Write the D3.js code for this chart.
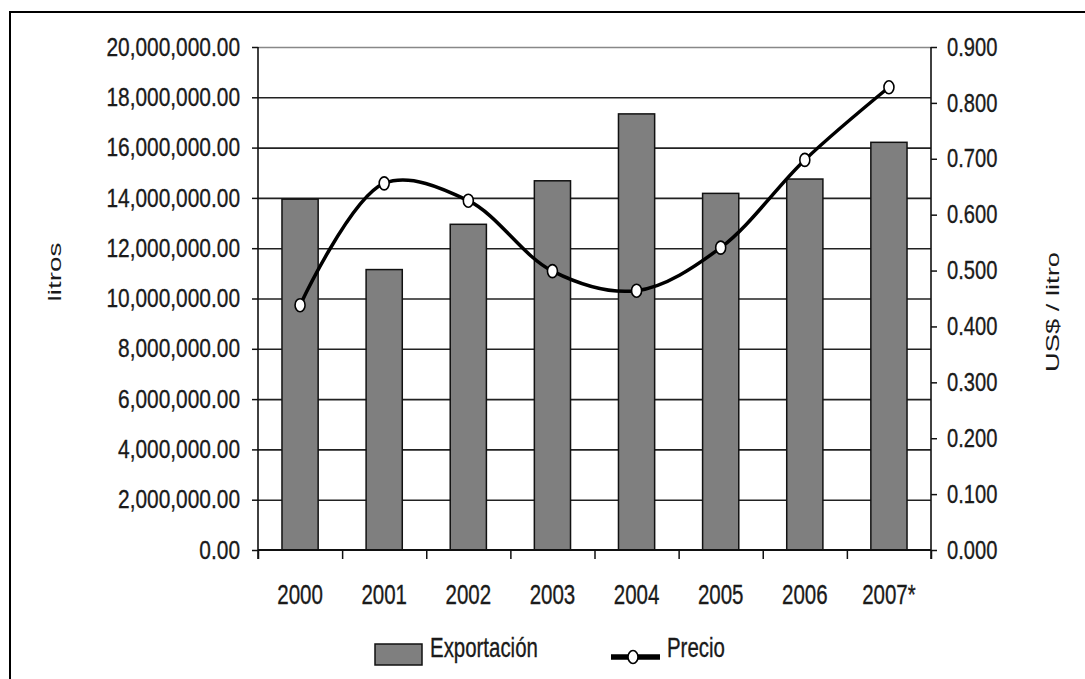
<!DOCTYPE html>
<html>
<head>
<meta charset="utf-8">
<script src="https://cdn.jsdelivr.net/npm/d3@7"></script>
<style>
  body { margin: 0; background: #fff; }
  text { font-family: "Liberation Sans", Arial, sans-serif; fill: #1a1a1a; stroke: #1a1a1a; stroke-width: 0.35; }
  text.title { stroke: none; }
</style>
</head>
<body>
<div id="chart"></div>
<script>
// chart data
var years = ["2000", "2001", "2002", "2003", "2004", "2005", "2006", "2007*"];
var exportacion = [13950000, 11150000, 12950000, 14680000, 17340000, 14180000, 14750000, 16210000];
var precio = [0.438, 0.656, 0.625, 0.499, 0.464, 0.541, 0.698, 0.828];
var leftTicks = [0, 2e6, 4e6, 6e6, 8e6, 10e6, 12e6, 14e6, 16e6, 18e6, 20e6];
var rightTicks = [0, 0.1, 0.2, 0.3, 0.4, 0.5, 0.6, 0.7, 0.8, 0.9];

var svgWidth = 1085;
var svgHeight = 679;
var plot = { left: 258, right: 931, top: 47, bottom: 550 };

var svg = d3.select("#chart")
  .append("svg")
  .attr("width", svgWidth)
  .attr("height", svgHeight);

// outer frame (only left and top edges visible)
svg.append("path")
  .attr("d", "M10,679 L10,12 L1085,12")
  .attr("fill", "none")
  .attr("stroke", "#000")
  .attr("stroke-width", 2);

// scales
var xScale = d3.scaleBand()
  .domain(years)
  .range([plot.left, plot.right])
  .paddingInner(0.57)
  .paddingOuter(0.285);

var xIdx = d3.scaleLinear()
  .domain([0, years.length])
  .range([plot.left, plot.right]);

var yLeft = d3.scaleLinear()
  .domain([0, 20e6])
  .range([plot.bottom, plot.top]);

var yRight = d3.scaleLinear()
  .domain([0, 0.9])
  .range([plot.bottom, plot.top]);

// gridlines
svg.append("g")
  .attr("transform", `translate(${plot.left},0)`)
  .call(d3.axisLeft(yLeft).tickValues(leftTicks.slice(1)).tickSize(-(plot.right - plot.left)).tickFormat(""))
  .call(g => g.select(".domain").remove())
  .selectAll("line")
  .attr("stroke", (d, i) => i === leftTicks.length - 2 ? "#888" : "#222")
  .attr("stroke-width", 1.6);

// bars
svg.append("g")
  .selectAll("rect")
  .data(exportacion)
  .enter()
  .append("rect")
  .attr("x", (d, i) => xScale(years[i]))
  .attr("y", d => yLeft(d))
  .attr("width", xScale.bandwidth())
  .attr("height", d => yLeft(0) - yLeft(d))
  .attr("fill", "#7f7f7f")
  .attr("stroke", "#111")
  .attr("stroke-width", 1.5);

// helper: condensed text
function squeeze(sel, sx) {
  sel.each(function() {
    var t = d3.select(this);
    var x = +t.attr("x") || 0;
    t.attr("x", x / sx).attr("transform", `scale(${sx},1)`);
  });
}

// left axis
var leftAxis = svg.append("g")
  .attr("transform", `translate(${plot.left},0)`)
  .call(d3.axisLeft(yLeft).tickValues(leftTicks).tickSize(6).tickPadding(12).tickFormat(d3.format(",.2f")));
leftAxis.select(".domain").attr("d", `M0,${plot.top}V${plot.bottom + 9}`).attr("stroke", "#111").attr("stroke-width", 1.6);
leftAxis.selectAll(".tick line").attr("stroke", "#111").attr("stroke-width", 1.5);
leftAxis.selectAll("text")
  .attr("font-size", 25.5)
  .attr("font-family", "Liberation Sans, Arial, sans-serif")
  .attr("fill", "#1a1a1a")
  .call(squeeze, 0.82);

// right axis
var rightAxis = svg.append("g")
  .attr("transform", `translate(${plot.right},0)`)
  .call(d3.axisRight(yRight).tickValues(rightTicks).tickSize(6).tickPadding(10).tickFormat(d3.format(".3f")));
rightAxis.select(".domain").attr("d", `M0,${plot.top}V${plot.bottom + 9}`).attr("stroke", "#111").attr("stroke-width", 1.6);
rightAxis.selectAll(".tick line").attr("stroke", "#111").attr("stroke-width", 1.5);
rightAxis.selectAll("text")
  .attr("font-size", 25.5)
  .attr("font-family", "Liberation Sans, Arial, sans-serif")
  .attr("fill", "#1a1a1a")
  .call(squeeze, 0.79);

// bottom axis: tick marks at category boundaries
var bottomTicks = svg.append("g")
  .attr("transform", `translate(0,${plot.bottom})`)
  .call(d3.axisBottom(xIdx).tickValues(d3.range(years.length + 1)).tickSize(9).tickFormat(""));
bottomTicks.select(".domain").attr("d", `M${plot.left},0H${plot.right}`).attr("stroke", "#111").attr("stroke-width", 1.8);
bottomTicks.selectAll(".tick line").attr("stroke", "#111").attr("stroke-width", 1.5);

// bottom axis labels
var bottomLabels = svg.append("g")
  .attr("transform", `translate(0,${plot.bottom})`)
  .call(d3.axisBottom(xScale).tickSize(0));
bottomLabels.select(".domain").remove();
bottomLabels.selectAll("text")
  .attr("y", 54)
  .attr("dy", 0)
  .attr("font-size", 27)
  .attr("font-family", "Liberation Sans, Arial, sans-serif")
  .attr("fill", "#1a1a1a")
  .call(squeeze, 0.76);

// price line
var line = d3.line()
  .x((d, i) => xScale(years[i]) + xScale.bandwidth() / 2)
  .y(d => yRight(d))
  .curve(d3.curveCatmullRom.alpha(0.5));

svg.append("path")
  .datum(precio)
  .attr("d", line)
  .attr("fill", "none")
  .attr("stroke", "#000")
  .attr("stroke-width", 3.5);

svg.append("g")
  .selectAll("ellipse")
  .data(precio)
  .enter()
  .append("ellipse")
  .attr("cx", (d, i) => xScale(years[i]) + xScale.bandwidth() / 2)
  .attr("cy", d => yRight(d))
  .attr("rx", 5)
  .attr("ry", 6.5)
  .attr("fill", "#fff")
  .attr("stroke", "#000")
  .attr("stroke-width", 1.6);

// axis titles
svg.append("text")
  .attr("class", "title")
  .text("litros")
  .attr("transform", "translate(61,272) rotate(-90) scale(1.55,1)")
  .attr("text-anchor", "middle")
  .attr("font-size", 18);

svg.append("text")
  .attr("class", "title")
  .text("US$ / litro")
  .attr("transform", "translate(1059,312) rotate(-90) scale(1.52,1)")
  .attr("text-anchor", "middle")
  .attr("font-size", 18);

// legend
var legend = svg.append("g");
legend.append("rect")
  .attr("x", 375)
  .attr("y", 644)
  .attr("width", 47)
  .attr("height", 21)
  .attr("fill", "#7f7f7f")
  .attr("stroke", "#111")
  .attr("stroke-width", 1.5);
legend.append("text")
  .text("Exportación")
  .attr("x", 430)
  .attr("y", 657)
  .attr("font-size", 28)
  .call(squeeze, 0.73);

legend.append("line")
  .attr("x1", 611)
  .attr("x2", 660)
  .attr("y1", 657)
  .attr("y2", 657)
  .attr("stroke", "#000")
  .attr("stroke-width", 5.5);
legend.append("ellipse")
  .attr("cx", 633)
  .attr("cy", 657)
  .attr("rx", 5)
  .attr("ry", 6.5)
  .attr("fill", "#fff")
  .attr("stroke", "#000")
  .attr("stroke-width", 1.6);
legend.append("text")
  .text("Precio")
  .attr("x", 667)
  .attr("y", 657)
  .attr("font-size", 28)
  .call(squeeze, 0.73);
</script>
</body>
</html>
